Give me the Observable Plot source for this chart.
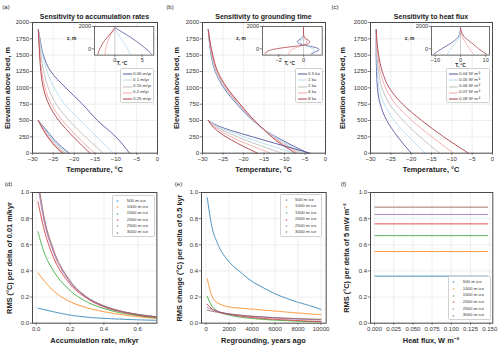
<!DOCTYPE html>
<html><head><meta charset="utf-8">
<script src="https://cdn.jsdelivr.net/npm/d3@7"></script>
<script src="https://cdn.jsdelivr.net/npm/@observablehq/plot@0.6"></script>
<style>
body{margin:0;background:#fff;}
#root{position:relative;width:500px;height:347px;overflow:hidden;font-family:"Liberation Sans",Arial,sans-serif;color:#222;}
.abs{position:absolute;white-space:nowrap;line-height:1;}
.title{font-weight:bold;font-size:7px;transform:translate(-50%,-50%);}
.xlab{font-weight:bold;font-size:7.4px;transform:translate(-50%,-50%);}
.ylab{font-weight:bold;font-size:7.4px;transform:translate(-50%,-50%) rotate(-90deg);}
.letter{font-size:6px;transform:translate(-50%,-50%);}
.inlab{font-weight:bold;font-size:4.8px;transform:translate(-50%,-50%);}
.legend{position:absolute;background:rgba(255,255,255,0.9);border:0.6px solid #d0d0d0;border-radius:1.5px;box-sizing:border-box;}
.lrow{position:absolute;font-size:4.4px;line-height:1;white-space:nowrap;color:#333;}
</style></head><body><div id="root"></div>
<script>
// ---------- categories ----------
const accumLabels = ["0.05 m/yr", "0.1 m/yr", "0.15 m/yr", "0.2 m/yr", "0.25 m/yr"];
const groundLabels = ["0.5 ka", "1 ka", "2 ka", "4 ka", "8 ka"];
const fluxLabels = ["0.04 W m⁻²", "0.05 W m⁻²", "0.06 W m⁻²", "0.07 W m⁻²", "0.08 W m⁻²"];
const iceLabels = ["500 m ice", "1000 m ice", "1500 m ice", "2000 m ice", "2500 m ice", "3000 m ice"];

// ---------- tick labels ----------
const tempTicks = [-30, -25, -20, -15, -10, -5, 0];
const elevTicks = [0, 250, 500, 750, 1000, 1250, 1500, 1750, 2000];
const rmsTicks = [0, 0.2, 0.4, 0.6, 0.8, 1.0];
const accTicks = [0, 0.2, 0.4, 0.6];
const regTicks = [0, 2000, 4000, 6000, 8000, 10000];
const fluxTicks = [0, 0.025, 0.05, 0.075, 0.1, 0.125, 0.15];
const insetZTicks = [0, 2000];
const insetATicks = [0, 5];
const insetBTicks = [-2, 0];
const insetCTicks = [-10, 0, 10];

// ---------- (a) accumulation profiles ----------
const zAUpper = [0, 250, 500, 750, 1000, 1250, 1500, 1750, 1890];
const accumUpper = [
  [-6.7, -10.0, -14.4, -18.0, -22.0, -25.6, -27.4, -28.2, -28.6],
  [-10.5, -14.6, -18.5, -22.3, -24.8, -26.5, -27.6, -28.3, -28.6],
  [-13.0, -17.3, -21.2, -24.3, -26.2, -27.3, -28.0, -28.4, -28.6],
  [-15.1, -19.2, -22.8, -25.5, -27.0, -27.8, -28.2, -28.5, -28.6],
  [-16.2, -20.2, -23.7, -26.1, -27.4, -28.0, -28.3, -28.5, -28.6]
];
const zALower = [0, 100, 200, 300, 400, 500];
const accumLower = [
  [-21.2, -23.1, -24.7, -26.0, -27.3, -28.6],
  [-21.7, -23.5, -25.0, -26.3, -27.5, -28.6],
  [-22.1, -23.9, -25.3, -26.5, -27.6, -28.6],
  [-22.5, -24.2, -25.6, -26.7, -27.7, -28.6],
  [-22.8, -24.5, -25.8, -26.9, -27.8, -28.6]
];
const zAInset = [-500, -180, 120, 420, 720, 1015, 1310, 1600, 1890];
const accumDiff = [
  [6.7, 6.1, 5.4, 4.6, 3.8, 2.9, 2.0, 1.0, 0],
  [2.8, 2.5, 2.2, 1.8, 1.4, 1.0, 0.6, 0.25, 0],
  [0, 0, 0, 0, 0, 0, 0, 0, 0],
  [-1.8, -1.7, -1.6, -1.45, -1.25, -1.0, -0.7, -0.35, 0],
  [-3.1, -2.9, -2.6, -2.3, -1.9, -1.4, -0.9, -0.4, 0]
];

// ---------- (b) grounding-time profiles ----------
const zBUpper = [0, 200, 360, 500, 750, 1000, 1250, 1500, 1750, 1890];
const groundUpper = [
  [-4.3, -10.6, -15.0, -17.7, -21.6, -24.8, -26.9, -27.9, -28.4, -28.6],
  [-4.9, -11.0, -15.0, -17.6, -21.4, -24.6, -26.8, -27.8, -28.4, -28.6],
  [-5.8, -11.5, -15.0, -17.5, -21.2, -24.4, -26.6, -27.7, -28.3, -28.6],
  [-6.6, -11.9, -15.0, -17.4, -21.0, -24.2, -26.5, -27.6, -28.3, -28.6],
  [-7.3, -12.2, -15.0, -17.3, -20.8, -24.0, -26.3, -27.5, -28.3, -28.6]
];
const zBLower = [0, 100, 200, 300, 400, 500];
const groundLower = [
  [-3.7, -9.5, -15.0, -20.5, -25.5, -28.6],
  [-7.6, -12.7, -17.5, -22.0, -26.0, -28.6],
  [-10.6, -15.2, -19.5, -23.3, -26.5, -28.6],
  [-13.4, -17.5, -21.3, -24.5, -27.0, -28.6],
  [-16.6, -19.9, -22.9, -25.5, -27.4, -28.6]
];
const zBInset = [-500, -300, -100, 100, 250, 400, 650, 900, 1300, 1900];
const groundDiff = [
  [0.6, 0.9, 1.25, 1.0, 0.4, -0.2, -0.5, -0.2, 0, 0],
  [0.55, 0.7, 0.85, 0.6, 0.2, -0.1, -0.25, -0.1, 0, 0],
  [0, 0, 0, 0, 0, 0, 0, 0, 0, 0],
  [-1.2, -1.15, -1.0, -0.6, -0.2, 0.15, 0.25, 0.1, 0, 0],
  [-3.1, -3.0, -2.6, -1.6, -0.5, 0.3, 0.5, 0.2, 0, 0]
];

// ---------- (c) heat-flux profiles ----------
const zC = [0, 250, 500, 750, 1000, 1250, 1500, 1890];
const fluxProfiles = [
  [-20.0, -23.3, -26.0, -27.6, -28.3, -28.5, -28.6, -28.6],
  [-16.5, -20.6, -24.2, -26.6, -27.9, -28.3, -28.5, -28.6],
  [-13.0, -17.8, -22.0, -25.3, -27.2, -28.0, -28.4, -28.6],
  [-9.6, -14.9, -19.8, -23.8, -26.3, -27.6, -28.2, -28.6],
  [-5.9, -12.0, -17.4, -22.1, -25.4, -27.1, -28.0, -28.6]
];
const zCInset = [-500, 0, 500, 1000, 1500, 1890];
const fluxDiff = [
  [-10.7, -7.5, -3.8, -1.1, -0.2, 0],
  [-5.3, -3.8, -2.0, -0.6, -0.1, 0],
  [0, 0, 0, 0, 0, 0],
  [5.1, 3.6, 2.2, 0.9, 0.2, 0],
  [10.4, 7.2, 4.6, 1.8, 0.4, 0]
];

// ---------- (d) RMS vs accumulation ----------
const accRates = [0.01, 0.05, 0.1, 0.2, 0.3, 0.4, 0.5, 0.6, 0.71];
const rmsAcc = [
  [0.115, 0.103, 0.088, 0.062, 0.046, 0.037, 0.031, 0.026, 0.022],
  [0.385, 0.32, 0.25, 0.165, 0.118, 0.088, 0.066, 0.05, 0.036],
  [0.70, 0.53, 0.405, 0.25, 0.163, 0.112, 0.079, 0.058, 0.041],
  [0.93, 0.70, 0.51, 0.30, 0.19, 0.125, 0.087, 0.063, 0.046],
  [1.05, 0.76, 0.55, 0.315, 0.195, 0.13, 0.091, 0.066, 0.048],
  [1.10, 0.79, 0.57, 0.325, 0.20, 0.133, 0.093, 0.068, 0.050]
];

// ---------- (e) RMS vs regrounding ----------
const regroundYears = [100, 500, 1000, 2000, 3000, 4000, 5000, 6000, 7000, 8000, 9000, 10000];
const rmsReg = [
  [0.96, 0.74, 0.61, 0.47, 0.39, 0.32, 0.27, 0.225, 0.19, 0.16, 0.135, 0.105],
  [0.34, 0.21, 0.155, 0.125, 0.115, 0.108, 0.1, 0.093, 0.085, 0.078, 0.071, 0.065],
  [0.205, 0.13, 0.093, 0.062, 0.046, 0.036, 0.029, 0.023, 0.019, 0.015, 0.012, 0.009],
  [0.145, 0.11, 0.09, 0.068, 0.054, 0.044, 0.036, 0.03, 0.025, 0.02, 0.016, 0.013],
  [0.12, 0.105, 0.09, 0.072, 0.06, 0.051, 0.045, 0.04, 0.035, 0.031, 0.028, 0.025],
  [0.10, 0.092, 0.083, 0.07, 0.061, 0.054, 0.048, 0.043, 0.039, 0.035, 0.032, 0.03]
];

// ---------- (f) RMS vs heat flux ----------
const fluxValues = [0.0005, 0.148];
const rmsFlux = [0.36, 0.548, 0.67, 0.76, 0.832, 0.888];

// ---------- styles ----------
const profileColors = ["#55579f", "#b3dcef", "#bdbdbd", "#f5a5a5", "#b0414a"];
const iceColors = ["#1f77b4", "#ff7f0e", "#2ca02c", "#d62728", "#9467bd", "#8c564b"];
const FONT = "'Liberation Sans', Arial, sans-serif";
const minus = s => String(s).replace("-", "\u2212");

// ---------- helpers ----------
const root = document.getElementById("root");
function addText(txt, x, y, cls) {
  const d = document.createElement("div");
  d.className = "abs " + cls;
  d.style.left = x + "px"; d.style.top = y + "px";
  d.textContent = txt;
  root.append(d);
}
function rowsProfile(zs, series, labels, set) {
  const out = [];
  series.forEach((vals, i) => vals.forEach((t, j) => out.push({T: t, z: zs[j], s: labels[i], k: labels[i] + set})));
  return out;
}
function rowsXY(xs, series, labels) {
  const out = [];
  series.forEach((vals, i) => vals.forEach((v, j) => out.push({x: xs[j], y: v, s: labels[i]})));
  return out;
}

function panel(o) {
  const ml = o.ml ?? 22, mr = o.mr ?? 4, mt = o.mt ?? 4, mb = o.mb ?? 11;
  const fw = o.fx1 - o.fx0, fh = o.fy1 - o.fy0;
  const marks = [];
  if (o.inset) marks.push(Plot.frame({fill: "white"}));
  if (o.grid !== false) {
    marks.push(Plot.gridX(o.xTicks, {stroke: "#e4e4e4", strokeOpacity: 1, strokeWidth: 0.6}));
    marks.push(Plot.gridY(o.yTicks, {stroke: "#e4e4e4", strokeOpacity: 1, strokeWidth: 0.6}));
  }
  marks.push(...o.marks);
  marks.push(Plot.frame({stroke: "#4a4a4a", strokeWidth: o.inset ? 0.8 : 1}));
  marks.push(Plot.axisX(o.xTicks, {tickFormat: o.xFmt, tickSize: 2.2, tickPadding: 1, label: null, stroke: "#4a4a4a", strokeWidth: 0.7}));
  marks.push(Plot.axisY(o.yTicks, {tickFormat: o.yFmt, tickSize: 2.2, tickPadding: 1.2, label: null, stroke: "#4a4a4a", strokeWidth: 0.7}));
  const svg = Plot.plot({
    width: fw + ml + mr, height: fh + mt + mb,
    marginLeft: ml, marginRight: mr, marginTop: mt, marginBottom: mb,
    style: {background: "transparent", fontSize: (o.fs ?? 6) + "px", fontFamily: FONT, color: "#333", overflow: "visible"},
    x: {domain: o.xDomain},
    y: {domain: o.yDomain},
    color: {domain: o.colorDomain, range: o.colorRange},
    marks
  });
  svg.style.position = "absolute";
  svg.style.left = (o.fx0 - ml) + "px";
  svg.style.top = (o.fy0 - mt) + "px";
  svg.style.maxWidth = "none";
  root.append(svg);
}

function legend(x, y, w, h, labels, colors, kind) {
  const box = document.createElement("div");
  box.className = "legend";
  Object.assign(box.style, {left: x + "px", top: y + "px", width: w + "px", height: h + "px"});
  const n = labels.length, step = (h - 4) / n;
  labels.forEach((lab, i) => {
    const cy = 2 + step * (i + 0.5);
    const ns = "http://www.w3.org/2000/svg";
    const s = document.createElementNS(ns, "svg");
    s.setAttribute("width", 10); s.setAttribute("height", 4);
    Object.assign(s.style, {position: "absolute", left: (kind === "line" ? 1.5 : 2.5) + "px", top: (cy - 2) + "px"});
    if (kind === "line") {
      const l = document.createElementNS(ns, "line");
      l.setAttribute("x1", 0); l.setAttribute("x2", 9); l.setAttribute("y1", 2); l.setAttribute("y2", 2);
      l.setAttribute("stroke", colors[i]); l.setAttribute("stroke-width", 1);
      s.append(l);
    } else {
      const p = document.createElementNS(ns, "path");
      p.setAttribute("d", "M2.5,1V3M1.5,2H3.5");
      p.setAttribute("stroke", colors[i]); p.setAttribute("stroke-width", 0.6); p.setAttribute("opacity", 0.7);
      s.append(p);
    }
    box.append(s);
    const t = document.createElement("div");
    t.className = "lrow";
    t.style.left = (kind === "line" ? 12 : 14) + "px";
    t.style.top = (cy - 2.3) + "px";
    t.textContent = lab;
    box.append(t);
  });
  root.append(box);
}

const fmt1 = d3.format(".1f");
const fmt3 = d3.format(".3f");

// ---------- top row main panels ----------
const topPanels = [
  {fx0: 32, fx1: 157, labels: accumLabels, marks: [
    Plot.line(rowsProfile(zAUpper, accumUpper, accumLabels, "u"), {x: "T", y: "z", z: "k", stroke: "s", curve: "monotone-y", strokeWidth: 0.9}),
    Plot.line(rowsProfile(zALower, accumLower, accumLabels, "l"), {x: "T", y: "z", z: "k", stroke: "s", curve: "monotone-y", strokeWidth: 0.9})
  ]},
  {fx0: 202, fx1: 325, labels: groundLabels, marks: [
    Plot.line(rowsProfile(zBUpper, groundUpper, groundLabels, "u"), {x: "T", y: "z", z: "k", stroke: "s", curve: "monotone-y", strokeWidth: 0.9}),
    Plot.line(rowsProfile(zBLower, groundLower, groundLabels, "l"), {x: "T", y: "z", z: "k", stroke: "s", curve: "monotone-y", strokeWidth: 0.9})
  ]},
  {fx0: 370, fx1: 492, labels: fluxLabels, marks: [
    Plot.line(rowsProfile(zC, fluxProfiles, fluxLabels, "u"), {x: "T", y: "z", z: "k", stroke: "s", curve: "monotone-y", strokeWidth: 0.9})
  ]}
];
topPanels.forEach(p => panel({
  fx0: p.fx0, fx1: p.fx1, fy0: 22.3, fy1: 153,
  xDomain: [-30, 0], yDomain: [0, 2000], xTicks: tempTicks, yTicks: elevTicks,
  xFmt: minus, yFmt: d => String(d),
  colorDomain: p.labels, colorRange: profileColors, marks: p.marks
}));

// ---------- insets ----------
const insets = [
  {fx0: 94, fx1: 153.3, xDomain: [-3.7, 7.1], xTicks: insetATicks, zs: zAInset, vals: accumDiff, labels: accumLabels},
  {fx0: 262.3, fx1: 322, xDomain: [-3.3, 1.5], xTicks: insetBTicks, zs: zBInset, vals: groundDiff, labels: groundLabels},
  {fx0: 431, fx1: 489, xDomain: [-11.5, 11.5], xTicks: insetCTicks, zs: zCInset, vals: fluxDiff, labels: fluxLabels}
];
insets.forEach(p => panel({
  inset: true, grid: false, fs: 5.6, ml: 16, mb: 9,
  fx0: p.fx0, fx1: p.fx1, fy0: 25.7, fy1: 54.3,
  xDomain: p.xDomain, yDomain: [-565, 2000], xTicks: p.xTicks, yTicks: insetZTicks,
  xFmt: minus, yFmt: d => String(d),
  colorDomain: p.labels, colorRange: profileColors,
  marks: [Plot.line(rowsProfile(p.zs, p.vals, p.labels, "d"), {x: "T", y: "z", z: "k", stroke: "s", curve: "monotone-y", strokeWidth: 0.8, clip: true})]
}));

// ---------- bottom row ----------
const botPanels = [
  {fx0: 32.3, fx1: 156.7, xDomain: [-0.022, 0.713], xTicks: accTicks, xFmt: fmt1,
   rows: rowsXY(accRates, rmsAcc, iceLabels)},
  {fx0: 201, fx1: 325.7, xDomain: [-400, 10450], xTicks: regTicks, xFmt: d => String(d),
   rows: rowsXY(regroundYears, rmsReg, iceLabels)},
  {fx0: 370, fx1: 492.3, xDomain: [-0.0052, 0.154], xTicks: fluxTicks, xFmt: fmt3,
   rows: rowsXY(fluxValues, rmsFlux.map(v => [v, v]), iceLabels)}
];
botPanels.forEach(p => panel({
  fx0: p.fx0, fx1: p.fx1, fy0: 192.3, fy1: 323,
  xDomain: p.xDomain, yDomain: [0, 1], xTicks: p.xTicks, yTicks: rmsTicks,
  xFmt: p.xFmt, yFmt: fmt1,
  colorDomain: iceLabels, colorRange: iceColors,
  marks: [Plot.line(p.rows, {x: "x", y: "y", z: "s", stroke: "s", curve: "monotone-x", strokeWidth: 0.9, strokeOpacity: 0.85, strokeDasharray: "1.6,0.5", clip: true})]
}));

// ---------- legends ----------
legend(120, 68, 34, 35, accumLabels, profileColors, "line");
legend(295, 68, 28, 35, groundLabels, profileColors, "line");
legend(446, 68, 43.5, 35, fluxLabels, profileColors, "line");
legend(111.7, 195, 43.3, 41.7, iceLabels, iceColors, "marker");
legend(280, 194, 41.7, 42.7, iceLabels, iceColors, "marker");
legend(447.7, 276, 43, 44, iceLabels, iceColors, "marker");

// ---------- text ----------
addText("(a)", 6, 6.5, "letter");
addText("(b)", 170, 6.5, "letter");
addText("(c)", 335, 6.5, "letter");
addText("(d)", 8.5, 184, "letter");
addText("(e)", 178.5, 183.5, "letter");
addText("(f)", 343.5, 183.5, "letter");

addText("Sensitivity to accumulation rates", 94.5, 15.5, "title");
addText("Sensitivity to grounding time", 263.5, 15.5, "title");
addText("Sensitivity to heat flux", 431, 15.5, "title");

["Elevation above bed, m"].forEach(t => { addText(t, 7.5, 88, "ylab"); addText(t, 176.7, 88, "ylab"); addText(t, 343.3, 88, "ylab"); });
[94.5, 263.5, 431].forEach(x => addText("Temperature, °C", x, 170, "xlab"));

addText("RMS (°C) per delta of 0.01 m/kyr", 10, 257.5, "ylab");
addText("RMS  change  (°C) per delta of 0.5 kyr", 180, 257.5, "ylab");
addText("RMS (°C) per delta of 5 mW m⁻²", 346.7, 257.5, "ylab");
addText("Accumulation rate, m/kyr", 94.5, 340.5, "xlab");
addText("Regrounding, years ago", 263.4, 340.5, "xlab");
addText("Heat flux, W m⁻²", 431, 340.5, "xlab");

[[71.7, 39], [241, 39], [409.5, 39]].forEach(([x, y]) => addText("z, m", x, y, "inlab"));
[[122, 63.5], [289.7, 64], [460.5, 65.5]].forEach(([x, y]) => addText("T, °C", x, y, "inlab"));
</script></body></html>
